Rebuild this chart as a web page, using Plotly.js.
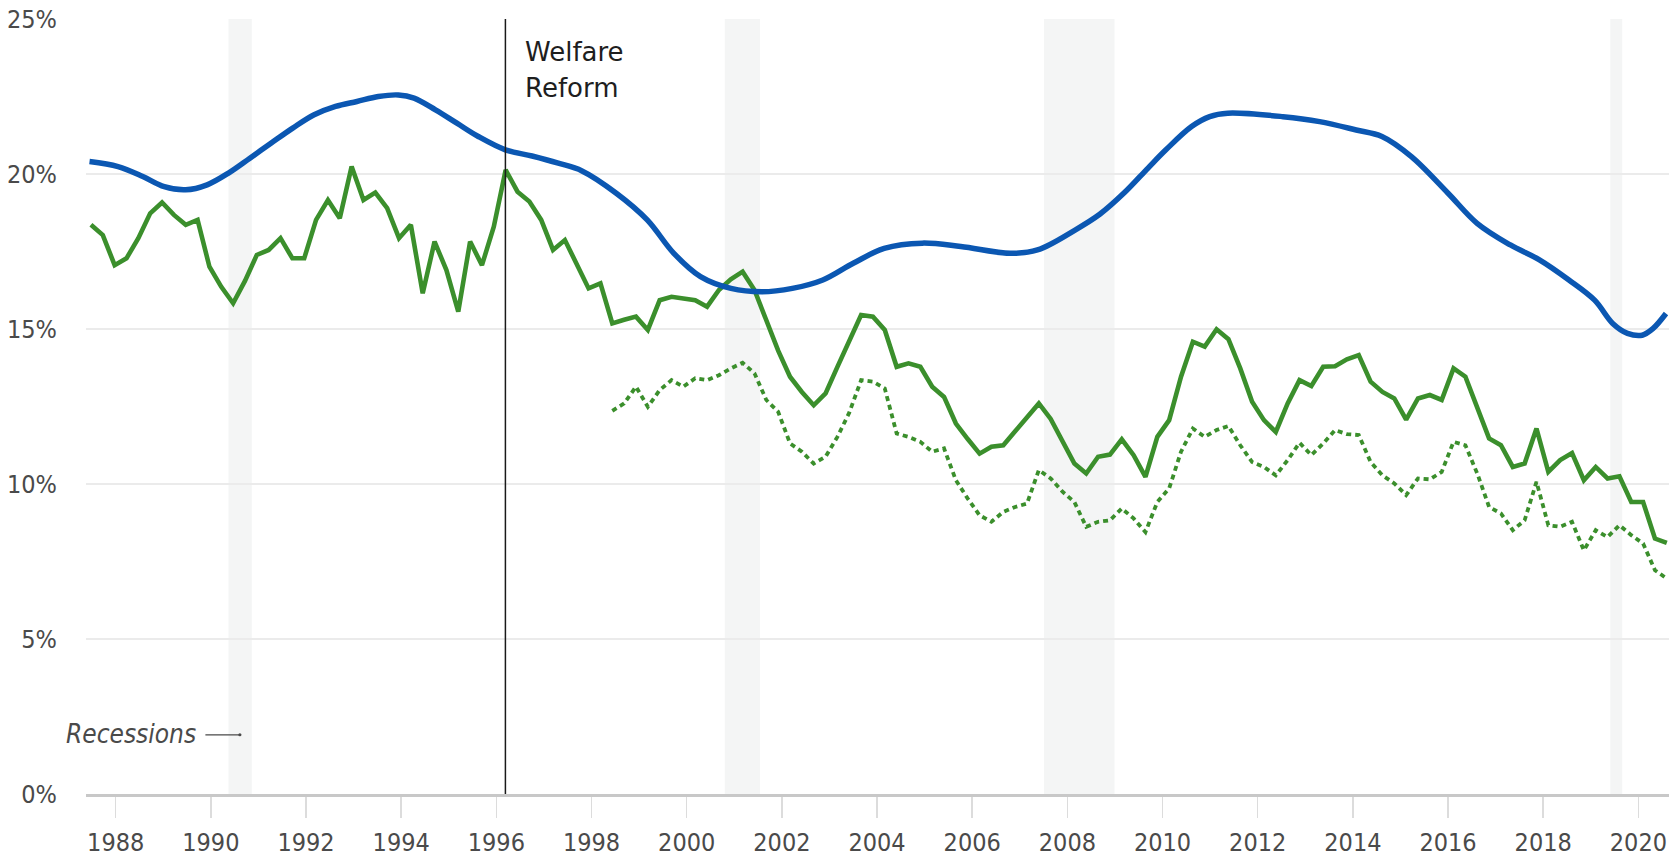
<!DOCTYPE html>
<html>
<head>
<meta charset="utf-8">
<script src="https://cdn.plot.ly/plotly-3.0.1.min.js"></script>
<style>
  html, body { margin: 0; padding: 0; background: #fff; }
  #chart { width: 1675px; height: 858px; }
</style>
</head>
<body>
<div id="chart"></div>
<script>
// ---------------- DATA ----------------
// Quarterly series (solid green) – first quarter plotted at qStart, one value per quarter
const qStart = 1987.48;
const qStep = 0.249;
const greenSolid = [
  18.36, 18.03, 17.06, 17.28, 17.93, 18.73, 19.08, 18.68, 18.36, 18.52,
  17.01, 16.36, 15.83, 16.55, 17.39, 17.55, 17.93, 17.28, 17.28, 18.52,
  19.16, 18.57, 20.24, 19.16, 19.40, 18.90, 17.93, 18.36, 16.15, 17.82,
  16.90, 15.56, 17.82, 17.06, 18.30, 20.13, 19.43, 19.11, 18.52, 17.55,
  17.87, 17.05, 16.31, 16.47, 15.18, 15.30, 15.40, 14.97, 15.93, 16.04,
  15.98, 15.93, 15.72, 16.26, 16.60, 16.85, 16.26, 15.30, 14.30, 13.46,
  12.97, 12.54, 12.92, 13.78, 14.64, 15.45, 15.40, 14.97, 13.78, 13.89,
  13.78, 13.14, 12.81, 11.95, 11.45, 10.98, 11.20, 11.25, 11.70, 12.15,
  12.60, 12.10, 11.40, 10.66, 10.34, 10.88, 10.95, 11.44, 10.93, 10.23,
  11.52, 12.06, 13.46, 14.59, 14.43, 14.99, 14.67, 13.73, 12.65, 12.06,
  11.68, 12.60, 13.35, 13.16, 13.78, 13.80, 14.02, 14.16, 13.30, 12.97,
  12.76, 12.08, 12.76, 12.87, 12.71, 13.73, 13.46, 12.49, 11.47, 11.25,
  10.55, 10.66, 11.79, 10.39, 10.77, 11.00, 10.12, 10.55, 10.18, 10.25,
   9.42,  9.42,  8.24,  8.10
];
// Dotted green series starts at this quarter index of the solid series
const dottedStartIndex = 44;
const greenDotted = [
  12.36, 12.60, 13.14, 12.49, 13.03, 13.35, 13.14, 13.41, 13.35, 13.51,
  13.73, 13.91, 13.57, 12.71, 12.33, 11.31, 11.04, 10.66, 10.88, 11.52,
  12.30, 13.35, 13.30, 13.08, 11.63, 11.52, 11.36, 11.04, 11.15, 10.12,
   9.53,  8.99,  8.78,  9.10,  9.26,  9.37, 10.45, 10.18,  9.75,  9.42,
   8.62,  8.78,  8.83,  9.21,  8.89,  8.45,  9.42,  9.86, 11.04, 11.79,
  11.52, 11.74, 11.87, 11.25, 10.71, 10.55, 10.28, 10.77, 11.33, 10.93,
  11.31, 11.74, 11.61, 11.58, 10.71, 10.28, 10.02,  9.64, 10.18, 10.15,
  10.39, 11.36, 11.25, 10.34,  9.26,  9.05,  8.51,  8.83, 10.07,  8.67,
   8.62,  8.78,  7.86,  8.51,  8.29,  8.67,  8.35,  8.08,  7.22,  6.95
];
// Smooth blue series (year, value)
const blueYears = [
  1987.45, 1988.05, 1988.57, 1989.02, 1989.47, 1989.92, 1990.37, 1990.82, 1991.27, 1991.72,
  1992.17, 1992.62, 1993.07, 1993.52, 1993.94, 1994.27, 1994.72, 1995.17, 1995.62, 1996.19,
  1996.75, 1997.30, 1997.80, 1998.52, 1999.17, 1999.73, 2000.29, 2000.93, 2001.58, 2002.22,
  2002.86, 2003.50, 2004.15, 2004.95, 2005.76, 2006.80, 2007.37, 2008.17, 2008.68, 2009.20,
  2009.70, 2010.07, 2010.61, 2010.99, 2011.37, 2012.53, 2013.30, 2014.07, 2014.61, 2015.23,
  2016.00, 2016.61, 2017.31, 2017.92, 2018.54, 2019.08, 2019.46, 2019.77, 2020.08, 2020.31,
  2020.58
];
const blueValues = [
  20.40, 20.24, 19.92, 19.59, 19.49, 19.65, 20.03, 20.51, 21.00, 21.48,
  21.91, 22.18, 22.34, 22.50, 22.55, 22.45, 22.07, 21.64, 21.21, 20.78,
  20.58, 20.35, 20.10, 19.38, 18.52, 17.44, 16.69, 16.31, 16.20, 16.31,
  16.58, 17.12, 17.60, 17.77, 17.66, 17.44, 17.55, 18.20, 18.70, 19.40,
  20.20, 20.78, 21.53, 21.85, 21.96, 21.85, 21.69, 21.42, 21.21, 20.56,
  19.38, 18.41, 17.71, 17.23, 16.58, 15.93, 15.18, 14.86, 14.80, 15.02,
  15.50
];
// Recession periods [start, end] in years
const recessions = [
  [1990.37, 1990.86],
  [2000.80, 2001.54],
  [2007.51, 2008.99],
  [2019.41, 2019.66]
];
const welfareYear = 1996.19;
const xTickYears = [1988, 1990, 1992, 1994, 1996, 1998, 2000, 2002, 2004, 2006, 2008, 2010, 2012, 2014, 2016, 2018, 2020];
const yTickValues = [0, 5, 10, 15, 20, 25];
const yTickLabels = ["0%", "5%", "10%", "15%", "20%", "25%"];

// ---------------- BUILD ----------------
const quarterX = greenSolid.map((_, i) => qStart + i * qStep);
const dottedX = greenDotted.map((_, i) => qStart + (dottedStartIndex + i) * qStep);

const GREEN = "#3b8f2c";
const BLUE = "#0b57b2";
const FONT = "'DejaVu Sans Condensed', 'Liberation Sans Narrow', sans-serif";

const traces = [
  {
    x: dottedX, y: greenDotted, type: "scatter", mode: "lines",
    line: { color: GREEN, width: 3.8, dash: "5px,4px" }, hoverinfo: "skip"
  },
  {
    x: quarterX, y: greenSolid, type: "scatter", mode: "lines",
    line: { color: GREEN, width: 4.6, shape: "linear" }, hoverinfo: "skip"
  },
  {
    x: blueYears, y: blueValues, type: "scatter", mode: "lines",
    line: { color: BLUE, width: 5.5, shape: "spline", smoothing: 1 }, hoverinfo: "skip"
  }
];

const shapes = recessions.map(r => ({
  type: "rect", xref: "x", yref: "y", x0: r[0], x1: r[1], y0: 0, y1: 25,
  fillcolor: "#f4f5f5", line: { width: 0 }, layer: "below"
}));
shapes.push({
  type: "line", xref: "x", yref: "y", x0: welfareYear, x1: welfareYear, y0: 0, y1: 25,
  line: { color: "#1a1a1a", width: 1.5 }, layer: "above"
});

const annotations = [
  {
    text: "Welfare", xref: "x", yref: "y", x: welfareYear, y: 23.93,
    xanchor: "left", yanchor: "middle", xshift: 18, showarrow: false,
    font: { family: "'DejaVu Sans', sans-serif", size: 26, color: "#1e1e1e" }
  },
  {
    text: "Reform", xref: "x", yref: "y", x: welfareYear, y: 22.77,
    xanchor: "left", yanchor: "middle", xshift: 18, showarrow: false,
    font: { family: "'DejaVu Sans', sans-serif", size: 26, color: "#1e1e1e" }
  },
  {
    text: "<i>Recessions</i>", xref: "paper", yref: "y", x: 0, y: 1.95,
    xanchor: "right", yanchor: "middle", xshift: 112, showarrow: false,
    font: { family: "'DejaVu Sans Condensed', sans-serif", size: 26, color: "#4a4a4a" }
  },
  {
    text: "", xref: "x", yref: "y", x: 1990.61, y: 1.91, ax: -36, ay: 0,
    showarrow: true, arrowhead: 6, arrowsize: 0.6, arrowwidth: 1.3, arrowcolor: "#4a4a4a",
    standoff: 0, startstandoff: 0
  }
];

const layout = {
  width: 1675, height: 858,
  margin: { l: 86, r: 6, t: 19, b: 64 },
  paper_bgcolor: "#ffffff", plot_bgcolor: "#ffffff",
  showlegend: false,
  font: { family: FONT, color: "#4a4a4a", size: 25 },
  xaxis: {
    range: [1987.376, 2020.643],
    tickvals: xTickYears, ticktext: xTickYears.map(String),
    ticks: "outside", ticklen: 21, tickwidth: 1.5, tickcolor: "#dcdcdc",
    showgrid: false, zeroline: false,
    showline: true, linecolor: "#c8c8c8", linewidth: 3,
    tickfont: { family: FONT, size: 25, color: "#4a4a4a" },
    ticklabelstandoff: 3,
    fixedrange: true
  },
  yaxis: {
    range: [0, 25],
    tickvals: yTickValues, ticktext: yTickLabels,
    ticks: "", showgrid: true, gridcolor: "#ebebeb", gridwidth: 2,
    zeroline: false, showline: false,
    tickfont: { family: FONT, size: 25, color: "#4a4a4a" },
    ticklabelstandoff: 28,
    fixedrange: true
  },
  shapes: shapes,
  annotations: annotations,
  hovermode: false
};

Plotly.newPlot("chart", traces, layout, { staticPlot: true, displayModeBar: false });
</script>
</body>
</html>
